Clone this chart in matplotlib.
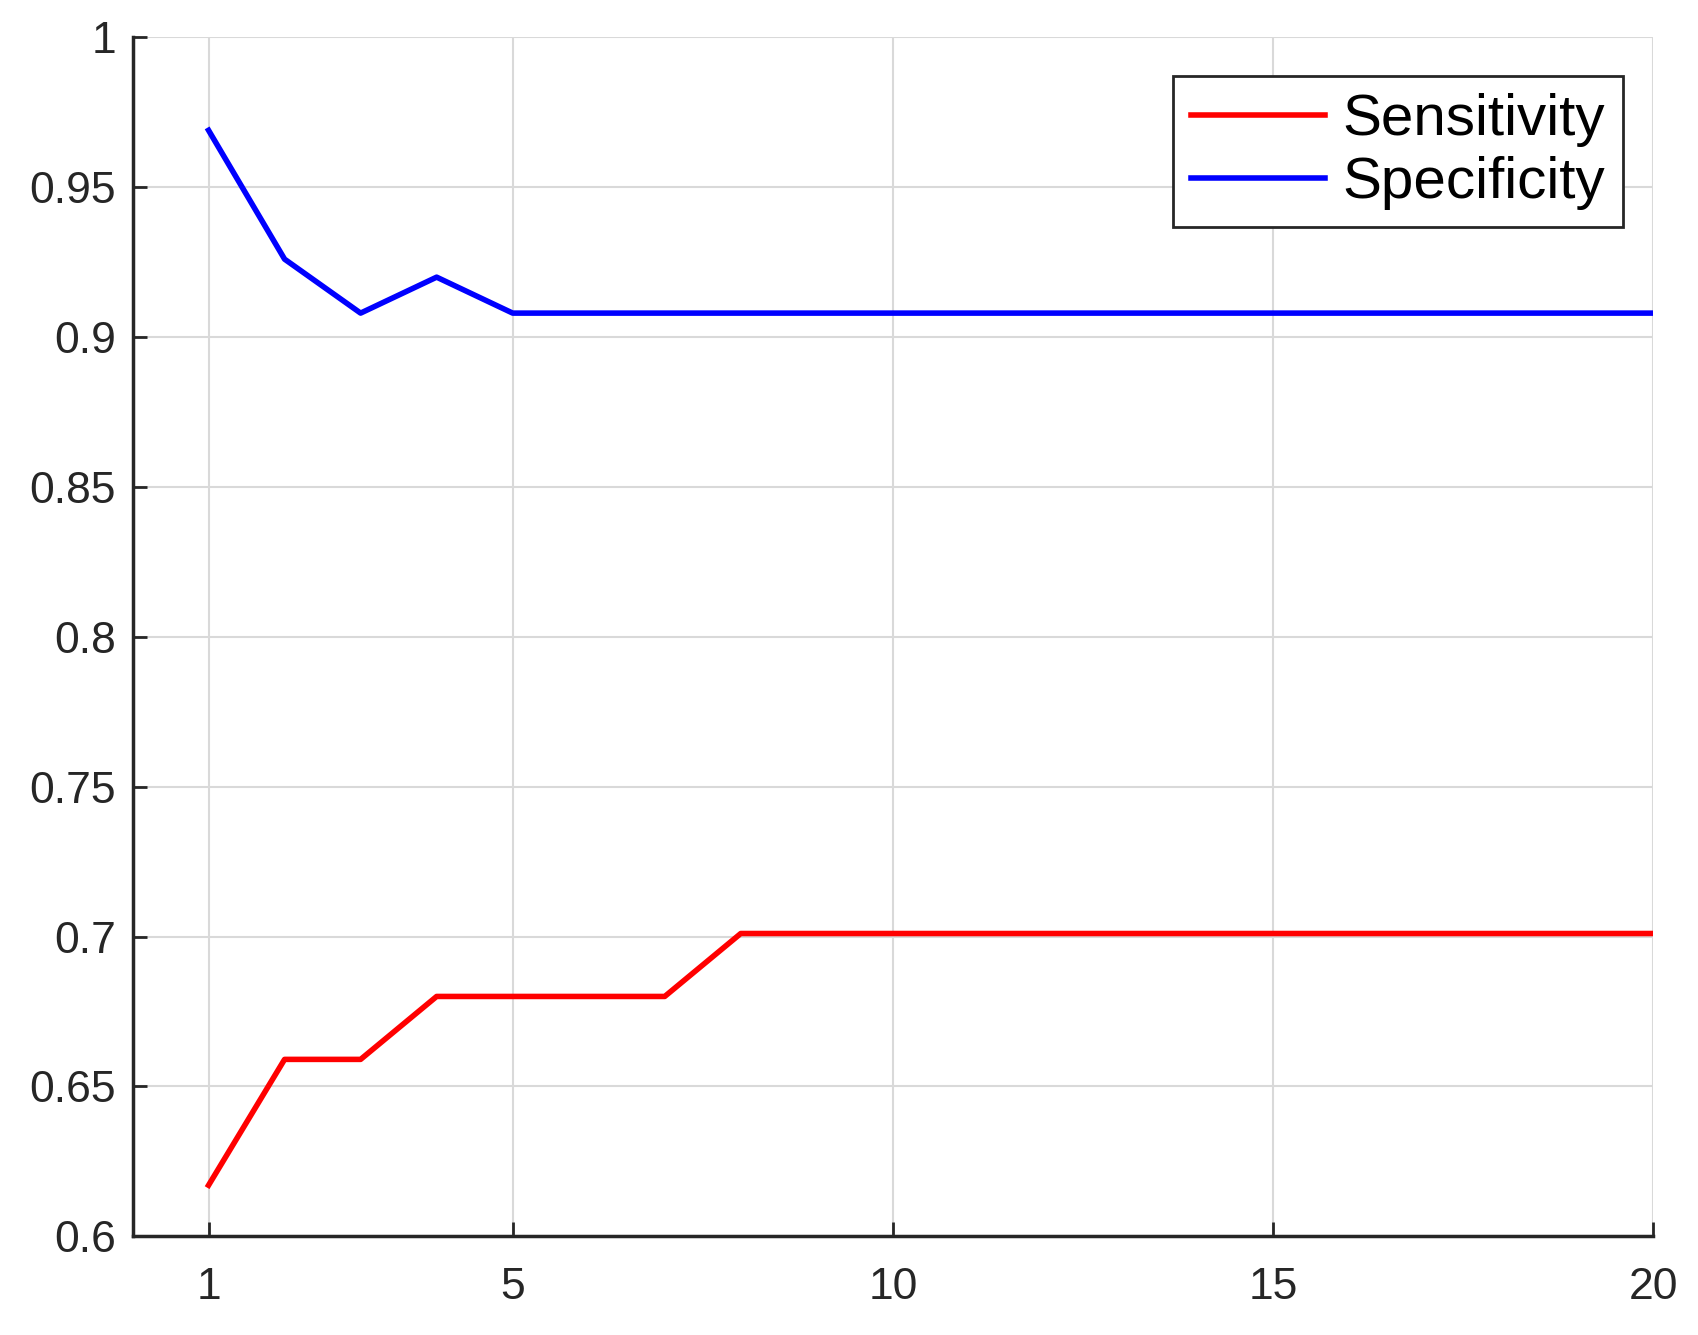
import numpy as np
import matplotlib.pyplot as plt

plt.rcParams["font.family"] = ["Liberation Sans", "DejaVu Sans"]

x = np.arange(1, 21)
sensitivity = [0.617, 0.659, 0.659, 0.680, 0.680, 0.680, 0.680] + [0.701] * 13
specificity = [0.969, 0.926, 0.908, 0.920] + [0.908] * 16

fig = plt.figure(figsize=(16.99, 13.35), dpi=100)
ax = fig.add_axes([0.078, 0.074, 0.895, 0.898])

ax.plot(x, sensitivity, color="#ff0000", lw=4, label="Sensitivity")
ax.plot(x, specificity, color="#0000ff", lw=4, label="Specificity")

ax.set_xlim(0, 20)
ax.set_ylim(0.6, 1)
ax.set_xticks([1, 5, 10, 15, 20])
ax.set_yticks([0.6, 0.65, 0.7, 0.75, 0.8, 0.85, 0.9, 0.95, 1])
ax.set_yticklabels(["0.6", "0.65", "0.7", "0.75", "0.8", "0.85", "0.9", "0.95", "1"])
ax.grid(True, color="#d9d9d9", lw=1.5)
ax.set_axisbelow(True)
for s in ["top", "right"]:
    ax.spines[s].set_visible(False)
for s in ["left", "bottom"]:
    ax.spines[s].set_linewidth(2.5)
    ax.spines[s].set_color("#262626")
ax.tick_params(direction="in", length=10, width=2, labelsize=32,
               colors="#262626")
ax.tick_params(axis="x", pad=22)
ax.tick_params(axis="y", pad=12)

leg = ax.legend(loc="upper right", bbox_to_anchor=(0.98, 0.968), fontsize=42,
                fancybox=False, edgecolor="#262626", framealpha=1,
                handlelength=2.3, handletextpad=0.3, borderpad=0.3,
                borderaxespad=0, labelspacing=0.15)
leg.get_frame().set_linewidth(2)

fig.savefig("out.png", dpi=100)
